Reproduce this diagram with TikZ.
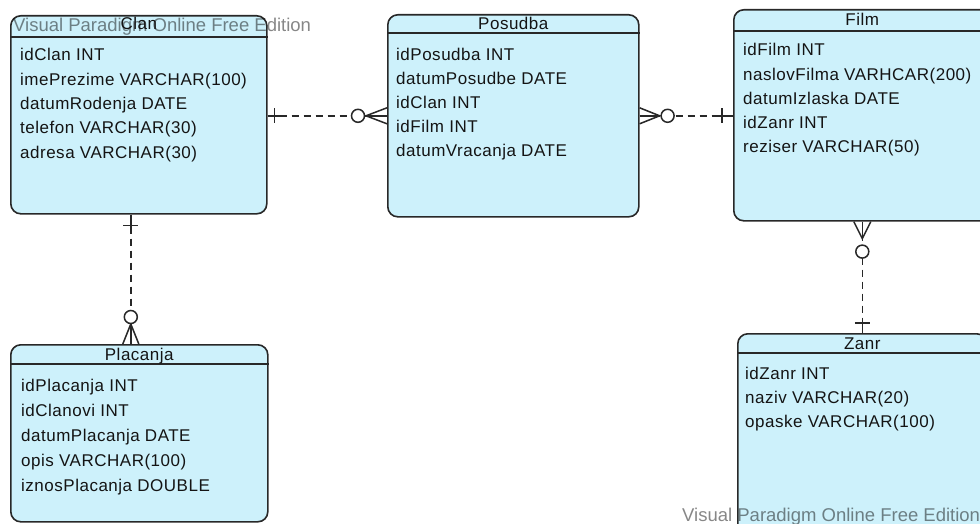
\documentclass[tikz,border=0pt]{standalone}
\usepackage{fontspec}
\setmainfont{Liberation Sans}
\newfontfamily\rowfont[LetterSpace=3]{Liberation Sans}
\usetikzlibrary{calc}
\definecolor{boxfill}{RGB}{205,241,251}
\definecolor{edgecol}{RGB}{40,40,40}
\definecolor{txtcol}{RGB}{20,20,20}
\newcommand\entityrows[5]{%
  \foreach \t [count=\i] in {#5}
    \node[rowtext] (#1-\i) at (#2, {#3+#4*(\i-1)}) {\t};}
\begin{document}
\begin{tikzpicture}[x=1pt,y=-1pt,
  entity/.style={draw=edgecol, line width=1.6pt, fill=boxfill, rounded corners=10pt,
    inner sep=0pt, anchor=north west},
  hdr/.style={draw=edgecol, line width=1.3pt},
  titletext/.style={font=\rowfont\fontsize{17}{20}\selectfont, text=txtcol, anchor=base, inner sep=0pt},
  rowtext/.style={font=\rowfont\fontsize{17}{20}\selectfont, text=txtcol, anchor=base west, inner sep=0pt},
  wmark/.style={font=\fontsize{18.5}{20}\selectfont, text=black, text opacity=0.47, anchor=base west, inner sep=0pt},
  conn/.style={draw=edgecol, line width=1.5pt},
  dashline/.style={conn, dash pattern=on 7pt off 5pt}]
\useasboundingbox (0,0) rectangle (980,524);
\clip (0,0) rectangle (980,524);
\fill[white] (0,0) rectangle (980,524);

% entity boxes
\node[entity, minimum width=256pt, minimum height=198pt] (clan) at (10,15) {};
\node[entity, minimum width=251pt, minimum height=202pt] (pos) at (387,14) {};
\node[entity, minimum width=257pt, minimum height=211pt] (film) at (733,9) {};
\node[entity, minimum width=257pt, minimum height=177pt] (plac) at (10,344) {};
\node[entity, minimum width=249pt, minimum height=202pt] (zanr) at (737,333) {};

% header rules
\draw[hdr] ($(clan.north west)+(0,22)$) -- ($(clan.north east)+(0,22)$);
\draw[hdr] ($(pos.north west)+(0,19)$) -- ($(pos.north east)+(0,19)$);
\draw[hdr] ($(film.north west)+(0,22)$) -- ($(film.north east)+(0,22)$);
\draw[hdr] ($(plac.north west)+(0,20)$) -- ($(plac.north east)+(0,20)$);
\draw[hdr] ($(zanr.north west)+(0,20)$) -- ($(zanr.north east)+(0,20)$);

% watermarks
\node[wmark] (wm1) at (13,31.5) {Visual Paradigm Online Free Edition};
\node[wmark] (wm2) at (682,521.5) {Visual Paradigm Online Free Edition};

% titles
\node[titletext] (clanT) at ($(clan.north)+(0,15)$) {Clan};
\node[titletext] (posT) at ($(pos.north)+(0,15.5)$) {Posudba};
\node[titletext] (filmT) at ($(film.north)+(0,17)$) {Film};
\node[titletext] (placT) at ($(plac.north)+(0,16)$) {Placanja};
\node[titletext] (zanrT) at ($(zanr.north)+(0,16)$) {Zanr};

% rows
\entityrows{clanR}{20}{61}{24.3}{idClan INT,imePrezime VARCHAR(100),datumRodenja DATE,telefon VARCHAR(30),adresa VARCHAR(30)}
\entityrows{posR}{396}{61}{23.8}{idPosudba INT,datumPosudbe DATE,idClan INT,idFilm INT,datumVracanja DATE}
\entityrows{filmR}{743}{56}{24.2}{idFilm INT,naslovFilma VARHCAR(200),datumIzlaska DATE,idZanr INT,reziser VARCHAR(50)}
\entityrows{placR}{21}{391}{25}{idPlacanja INT,idClanovi INT,datumPlacanja DATE,opis VARCHAR(100),iznosPlacanja DOUBLE}
\entityrows{zanrR}{745}{379}{24}{idZanr INT,naziv VARCHAR(20),opaske VARCHAR(100)}

% Clan -- Posudba
\coordinate (r1s) at (pos.west -| clan.east);
\draw[dashline] (r1s) -- (pos.west);
\draw[conn] (r1s) -- ++(12,0);
\draw[conn] ($(r1s)+(7,-7.5)$) -- ++(0,15);
\draw[conn] (pos.west) -- ++(-21,0);
\draw[conn] ($(pos.west)+(0,-8)$) -- ($(pos.west)+(-21,0)$) -- ($(pos.west)+(0,8)$);
\draw[conn, fill=white] ($(pos.west)+(-29,0)$) circle (6.5);

% Posudba -- Film
\coordinate (r2e) at (pos.east -| film.west);
\draw[dashline] (pos.east) -- (r2e);
\draw[conn] (r2e) -- ++(-14,0);
\draw[conn] ($(r2e)+(-11,-7.5)$) -- ++(0,15);
\draw[conn] (pos.east) -- ++(20,0);
\draw[conn] ($(pos.east)+(0,-8)$) -- ($(pos.east)+(20,0)$) -- ($(pos.east)+(0,8)$);
\draw[conn, fill=white] ($(pos.east)+(28,0)$) circle (6.5);

% Film -- Zanr
\coordinate (r4e) at (film.south |- zanr.north);
\draw[dashline] (film.south) -- (r4e);
\draw[conn] (r4e) -- ++(0,-13);
\draw[conn] ($(r4e)+(-7.5,-10)$) -- ++(15,0);
\draw[conn] (film.south) -- ++(0,17);
\draw[conn] ($(film.south)+(-8.5,0)$) -- ($(film.south)+(0,17)$) -- ($(film.south)+(8.5,0)$);
\draw[conn, fill=white] ($(film.south)+(0,30)$) circle (6.5);

% Clan -- Placanja
\coordinate (r3s) at ($(clan.south)+(-8,0)$);
\coordinate (r3e) at (r3s |- plac.north);
\draw[dashline] (r3s) -- (r3e);
\draw[conn] (r3s) -- ++(0,14);
\draw[conn] ($(r3s)+(-7.5,11)$) -- ++(15,0);
\draw[conn] (r3e) -- ++(0,-20);
\draw[conn] ($(r3e)+(-8,0)$) -- ($(r3e)+(0,-20)$) -- ($(r3e)+(8,0)$);
\draw[conn, fill=white] ($(r3e)+(0,-27)$) circle (6.5);
\end{tikzpicture}
\end{document}
